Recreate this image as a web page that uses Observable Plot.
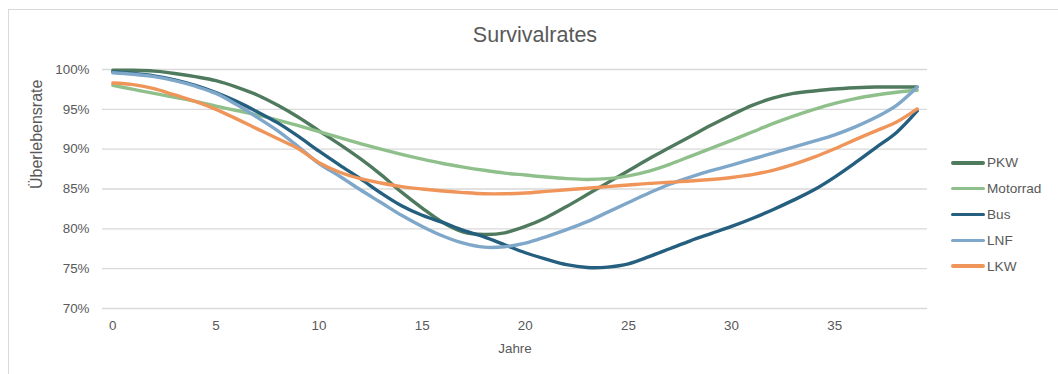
<!DOCTYPE html>
<html>
<head>
<meta charset="utf-8">
<script src="https://cdn.jsdelivr.net/npm/d3@7"></script>
<script src="https://cdn.jsdelivr.net/npm/@observablehq/plot@0.6"></script>
<style>
  body { margin: 0; background: #fff; font-family: "Liberation Sans", Arial, sans-serif; }
  #chart { position: relative; width: 1058px; height: 374px; overflow: hidden; background: #fff; }
  #frame { position: absolute; left: 8px; top: 9px; width: 1070px; height: 420px; border: 1px solid #d9d9d9; box-sizing: border-box; }
  #title { position: absolute; left: 0; width: 1070px; top: 22px; text-align: center; font-size: 21.5px; color: #595959; line-height: 26px; }
  #plot { position: absolute; left: 0; top: 0; }
  #legend { position: absolute; left: 951px; top: 150px; }
  .item { position: relative; height: 25.8px; display: flex; align-items: center; font-size: 13.6px; color: #595959; }
  .swatch { width: 34px; height: 3.5px; border-radius: 2px; margin-right: 2px; }
</style>
</head>
<body>
<div id="chart">
  <div id="frame"></div>
  <div id="title">Survivalrates</div>
  <div id="plot"></div>
  <div id="legend"></div>
</div>
<script>
// Fahrzeugalter in Jahren
const years = d3.range(0, 40);

// Überlebensraten je Fahrzeugklasse (in %)
const pkw = [99.9, 99.9, 99.8, 99.5, 99.1, 98.6, 97.8, 96.8, 95.5, 94.0,
             92.3, 90.6, 88.8, 86.8, 84.6, 82.6, 80.8, 79.6, 79.3, 79.5,
             80.3, 81.4, 82.8, 84.3, 85.8, 87.3, 88.8, 90.2, 91.6, 93.0,
             94.3, 95.5, 96.4, 97.0, 97.3, 97.55, 97.7, 97.8, 97.8, 97.8];
const motorrad = [98.0, 97.5, 97.0, 96.5, 96.0, 95.4, 94.85, 94.3, 93.65, 92.95,
                  92.2, 91.45, 90.7, 90.0, 89.35, 88.75, 88.2, 87.75, 87.35, 87.0,
                  86.75, 86.5, 86.3, 86.2, 86.3, 86.65, 87.25, 88.1, 89.1, 90.1,
                  91.1, 92.15, 93.2, 94.15, 95.0, 95.75, 96.35, 96.8, 97.15, 97.4];
const bus = [99.7, 99.5, 99.2, 98.7, 98.0, 97.1, 96.0, 94.7, 93.3, 91.6,
             89.75, 88.0, 86.3, 84.5, 82.9, 81.7, 80.8, 79.8, 79.0, 78.0,
             77.0, 76.2, 75.5, 75.15, 75.2, 75.6, 76.5, 77.5, 78.5, 79.4,
             80.3, 81.3, 82.4, 83.6, 84.9, 86.5, 88.3, 90.2, 92.1, 94.8];
const lnf = [99.6, 99.4, 99.1, 98.6, 97.9, 97.0, 95.6, 94.0, 92.3, 90.3,
             88.2, 86.6, 84.9, 83.3, 81.7, 80.3, 79.1, 78.2, 77.7, 77.75,
             78.2, 79.0, 79.9, 80.9, 82.1, 83.3, 84.5, 85.6, 86.5, 87.3,
             88.0, 88.75, 89.5, 90.25, 91.0, 91.8, 92.8, 94.0, 95.5, 97.8];
const lkw = [98.3, 98.1, 97.6, 96.8, 96.0, 95.0, 93.8, 92.55, 91.3, 90.05,
             88.3, 87.1, 86.3, 85.75, 85.3, 85.0, 84.75, 84.55, 84.4, 84.4,
             84.5, 84.7, 84.9, 85.1, 85.3, 85.5, 85.7, 85.85, 86.0, 86.2,
             86.45, 86.8, 87.35, 88.1, 89.0, 90.05, 91.2, 92.3, 93.4, 95.05];

const seriesNames = ["PKW", "Motorrad", "Bus", "LNF", "LKW"];
const seriesValues = [pkw, motorrad, bus, lnf, lkw];
const seriesColors = ["#4f7a5e", "#8fc08b", "#255f7f", "#7ea7ca", "#f0955a"];

const xTicks = [0, 5, 10, 15, 20, 25, 30, 35];
const yTicks = [70, 75, 80, 85, 90, 95, 100];

// Long-format table for the line mark
const rows = seriesNames.flatMap((name, s) =>
  years.map((year, i) => ({ series: name, year, rate: seriesValues[s][i] }))
);

const chart = Plot.plot({
  width: 1058,
  height: 374,
  marginLeft: 102,
  marginRight: 131,
  marginTop: 69,
  marginBottom: 66,
  style: { fontFamily: '"Liberation Sans", Arial, sans-serif', fontSize: "13.4px", color: "#595959", background: "transparent" },
  x: { domain: [-0.5, 39.5], ticks: xTicks, label: null },
  y: { domain: [70, 100], ticks: yTicks, label: null },
  color: { domain: seriesNames, range: seriesColors },
  marks: [
    Plot.ruleY(yTicks, { stroke: "#d9d9d9", strokeWidth: 1.3 }),
    Plot.axisX({ ticks: xTicks, tickSize: 0, tickPadding: 12, label: "Jahre", labelAnchor: "center", labelArrow: "none", labelOffset: 44 }),
    Plot.axisY({ ticks: yTicks, tickSize: 0, tickPadding: 13, tickFormat: d => d + "%", label: null }),
    // vertical axis title
    Plot.text(["Überlebensrate"], { frameAnchor: "left", dx: -66, rotate: -90, fontSize: 16, fill: "#595959", text: d => d }),
    Plot.line(rows, { x: "year", y: "rate", z: "series", stroke: "series", strokeWidth: 3.4, curve: "catmull-rom" })
  ]
});
document.getElementById("plot").appendChild(chart);

// Legend
const legend = d3.select("#legend");
seriesNames.forEach((name, i) => {
  const item = legend.append("div").attr("class", "item");
  item.append("div").attr("class", "swatch").style("background", seriesColors[i]);
  item.append("span").text(name);
});
</script>
</body>
</html>
